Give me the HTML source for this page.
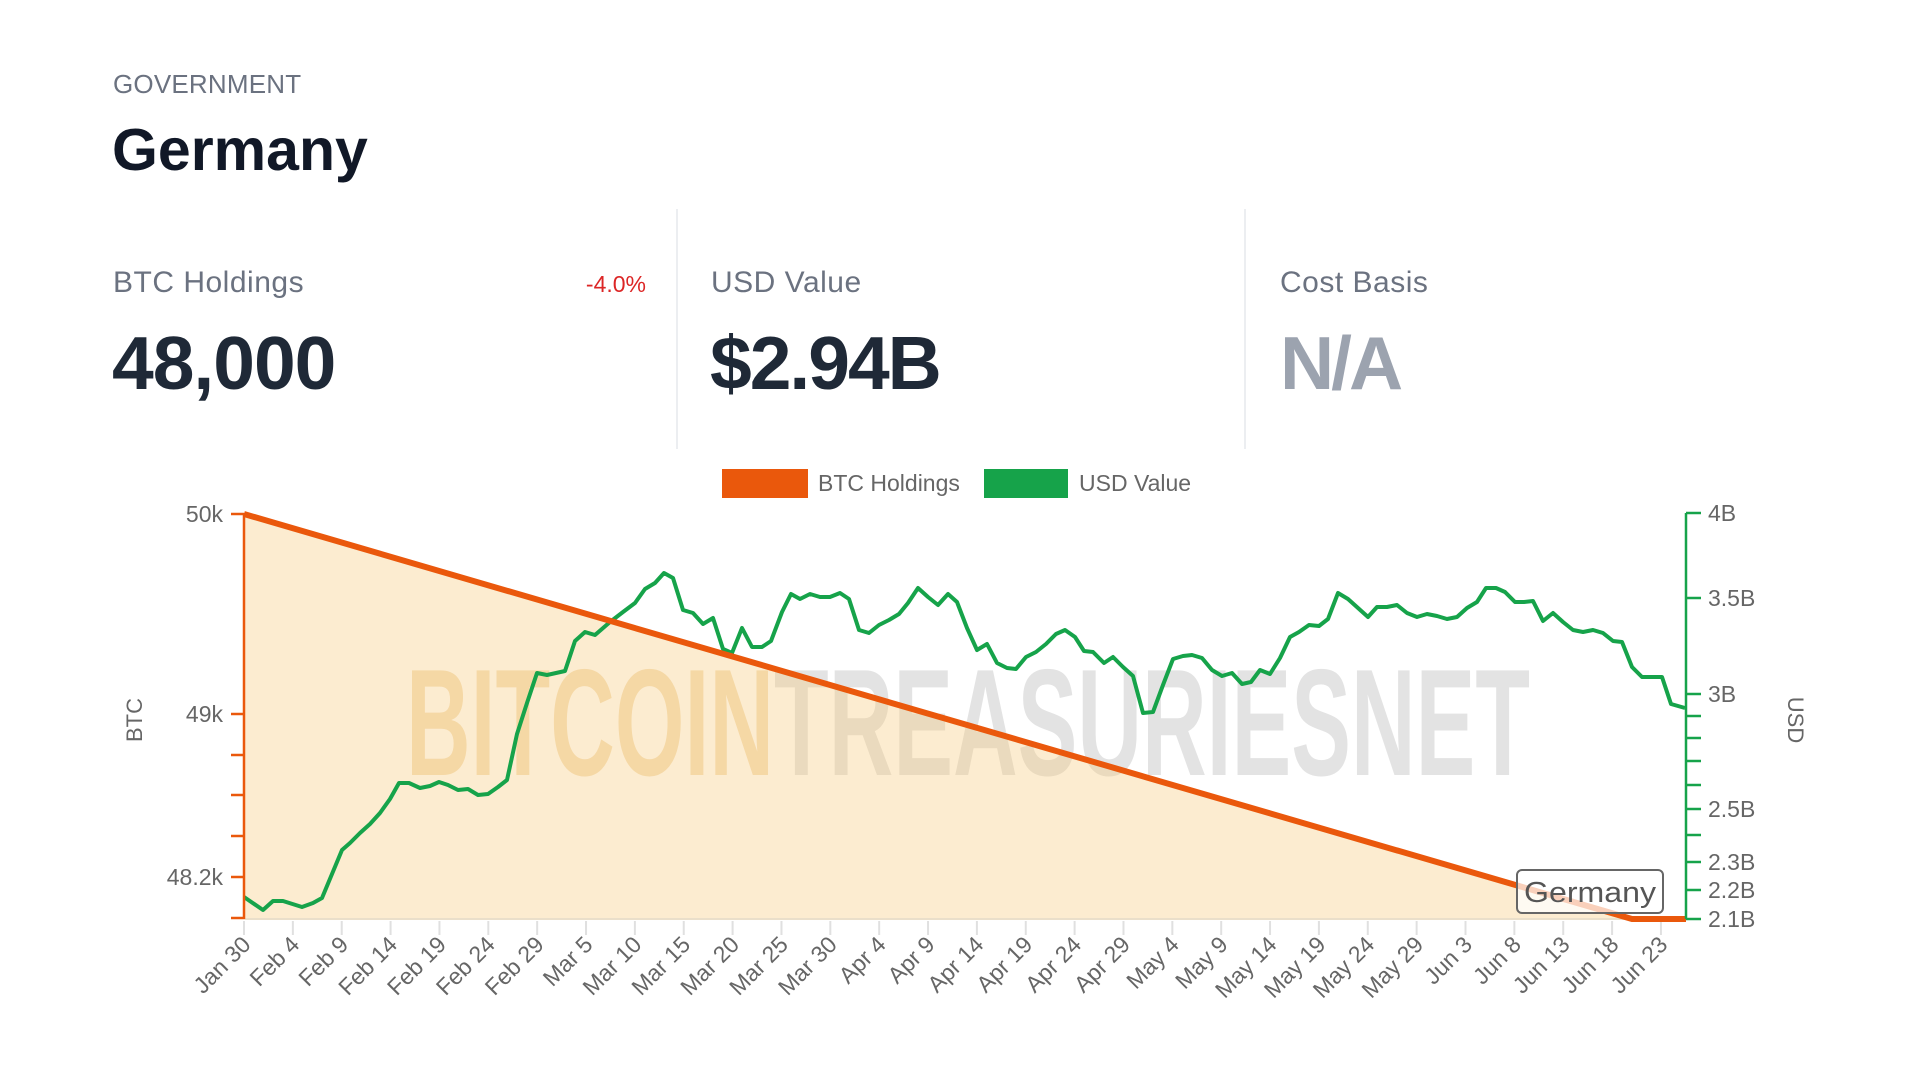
<!DOCTYPE html>
<html><head><meta charset="utf-8"><style>
html,body{margin:0;padding:0;background:#fff;width:1920px;height:1080px;overflow:hidden}
svg{display:block}
text{font-family:"Liberation Sans",sans-serif}
</style></head><body>
<svg width="1920" height="1080" viewBox="0 0 1920 1080" xmlns="http://www.w3.org/2000/svg">
<text x="113" y="93" font-size="26" fill="#6b7280" letter-spacing="0.2">GOVERNMENT</text>
<text x="112" y="170" font-size="59" font-weight="bold" fill="#111827">Germany</text>
<line x1="677" y1="209" x2="677" y2="449" stroke="#eceef1" stroke-width="2"/>
<line x1="1245" y1="209" x2="1245" y2="449" stroke="#eceef1" stroke-width="2"/>
<text x="113" y="292" font-size="30" fill="#6b7280" letter-spacing="0.5">BTC Holdings</text>
<text x="646" y="292" font-size="23" fill="#dc2626" text-anchor="end">-4.0%</text>
<text x="112" y="389" font-size="75" font-weight="bold" fill="#1f2937" letter-spacing="-1">48,000</text>
<text x="711" y="292" font-size="30" fill="#6b7280" letter-spacing="0.5">USD Value</text>
<text x="710" y="389" font-size="75" font-weight="bold" fill="#1f2937" letter-spacing="-2">$2.94B</text>
<text x="1280" y="292" font-size="30" fill="#6b7280" letter-spacing="0.5">Cost Basis</text>
<text x="1280" y="389" font-size="75" font-weight="bold" fill="#9ca3af" letter-spacing="-3">N/A</text>
<!-- legend -->
<rect x="722" y="469" width="86" height="29" fill="#ea580c"/>
<text x="818" y="491" font-size="23" fill="#666">BTC Holdings</text>
<rect x="984" y="469" width="84" height="29" fill="#16a34a"/>
<text x="1079" y="491" font-size="23" fill="#666">USD Value</text>
<!-- watermark -->
<text x="406" y="775" font-size="152" font-weight="bold" fill="#e3e3e3" style="font-family:'Liberation Sans Narrow','Liberation Sans',sans-serif" textLength="1124" lengthAdjust="spacingAndGlyphs"><tspan fill="#f5e0bd">BITCOIN</tspan>TREASURIESNET</text>
<!-- fill -->
<polygon points="244,514 1632,919 1686,919 1686,919 244,919" fill="rgba(247,200,120,0.35)"/>
<line x1="244" y1="919" x2="1686" y2="919" stroke="#eadfca" stroke-width="2"/>
<!-- x ticks -->
<g stroke="#e0e0e0" stroke-width="2" id="xt"></g>
<!-- green line -->
<polyline fill="none" stroke="#16a34a" stroke-width="4" stroke-linejoin="round" points="244,897 263,910 273,901 283,901 302,907 313,903 322,898 332,874 342,850 350,843 360,833 370,824 380,813 390,799 399,783 409,783 420,788 430,786 439,782 448,785 458,790 468,789 478,795 488,794 498,787 507,780 517,734 527,703 537,673 547,675 565,671 575,641 585,632 595,635 610,622 623,612 635,603 645,589 655,583 664,573 673,578 683,610 693,613 703,624 713,618 723,649 732,653 742,628 752,647 762,647 771,641 782,612 791,594 800,599 810,594 820,597 830,597 840,593 849,599 859,630 869,633 879,625 889,620 899,614 908,603 918,588 928,597 938,605 948,594 957,602 967,628 977,650 987,644 997,663 1007,668 1016,669 1026,657 1036,652 1046,644 1056,634 1065,630 1075,637 1084,651 1093,652 1104,663 1113,657 1123,667 1133,676 1143,713 1153,712 1163,685 1173,659 1183,656 1192,655 1202,658 1212,670 1222,676 1232,673 1242,684 1251,682 1260,670 1270,674 1280,658 1290,637 1299,632 1309,625 1319,626 1328,619 1338,593 1348,599 1358,608 1368,617 1377,607 1387,607 1397,605 1407,613 1417,617 1427,614 1437,616 1447,619 1457,617 1467,608 1477,602 1486,588 1496,588 1505,592 1515,602 1524,602 1533,601 1543,621 1553,613 1563,622 1573,630 1583,632 1593,630 1603,633 1613,641 1622,642 1632,667 1642,677 1652,677 1662,677 1671,704 1685,708"/>
<!-- orange line -->
<polyline fill="none" stroke="#ea580c" stroke-width="6" points="244,514 1632,919 1686,919"/>
<!-- left axis -->
<g stroke="#ea580c" stroke-width="2.5">
<line x1="244" y1="513" x2="244" y2="919"/>
<line x1="231" y1="514" x2="244" y2="514"/><line x1="231" y1="714" x2="244" y2="714"/>
<line x1="231" y1="755" x2="244" y2="755"/><line x1="231" y1="795" x2="244" y2="795"/>
<line x1="231" y1="836" x2="244" y2="836"/><line x1="231" y1="877" x2="244" y2="877"/>
<line x1="231" y1="918" x2="244" y2="918"/>
</g>
<g font-size="23" fill="#666" text-anchor="end">
<text x="223" y="522">50k</text><text x="223" y="722">49k</text><text x="223" y="885">48.2k</text>
</g>
<text transform="translate(142,720) rotate(-90)" font-size="22" fill="#666" text-anchor="middle">BTC</text>
<!-- right axis -->
<g stroke="#16a34a" stroke-width="2.5">
<line x1="1686" y1="513" x2="1686" y2="919"/>
<line x1="1686" y1="513" x2="1701" y2="513"/><line x1="1686" y1="598" x2="1701" y2="598"/>
<line x1="1686" y1="694" x2="1701" y2="694"/><line x1="1686" y1="716" x2="1701" y2="716"/>
<line x1="1686" y1="738" x2="1701" y2="738"/><line x1="1686" y1="761" x2="1701" y2="761"/>
<line x1="1686" y1="785" x2="1701" y2="785"/><line x1="1686" y1="809" x2="1701" y2="809"/>
<line x1="1686" y1="835" x2="1701" y2="835"/><line x1="1686" y1="862" x2="1701" y2="862"/>
<line x1="1686" y1="890" x2="1701" y2="890"/><line x1="1686" y1="919" x2="1701" y2="919"/>
</g>
<g font-size="23" fill="#666">
<text x="1708" y="521">4B</text><text x="1708" y="606">3.5B</text><text x="1708" y="702">3B</text>
<text x="1708" y="817">2.5B</text><text x="1708" y="870">2.3B</text><text x="1708" y="898">2.2B</text><text x="1708" y="927">2.1B</text>
</g>
<text transform="translate(1788,720) rotate(90)" font-size="22" fill="#666" text-anchor="middle">USD</text>
<!-- Germany label -->
<rect x="1517" y="870" width="146" height="43" rx="5" fill="rgba(255,255,255,0.72)" stroke="#666" stroke-width="2"/>
<text x="1590" y="902" font-size="29" fill="#555" text-anchor="middle" textLength="132" lengthAdjust="spacingAndGlyphs">Germany</text>
<!-- x labels -->
<g id="xl" font-size="23" fill="#666" text-anchor="end"></g>
<script>
var labels=["Jan 30","Feb 4","Feb 9","Feb 14","Feb 19","Feb 24","Feb 29","Mar 5","Mar 10","Mar 15","Mar 20","Mar 25","Mar 30","Apr 4","Apr 9","Apr 14","Apr 19","Apr 24","Apr 29","May 4","May 9","May 14","May 19","May 24","May 29","Jun 3","Jun 8","Jun 13","Jun 18","Jun 23"];
var ns="http://www.w3.org/2000/svg",xt=document.getElementById("xt"),xl=document.getElementById("xl");
labels.forEach(function(l,i){var x=244+i*48.86;
var ln=document.createElementNS(ns,"line");ln.setAttribute("x1",x);ln.setAttribute("x2",x);ln.setAttribute("y1",921);ln.setAttribute("y2",935);xt.appendChild(ln);
var t=document.createElementNS(ns,"text");t.setAttribute("transform","translate("+(x+8)+",946) rotate(-45)");t.textContent=l;xl.appendChild(t);});
</script>
</svg>
</body></html>
